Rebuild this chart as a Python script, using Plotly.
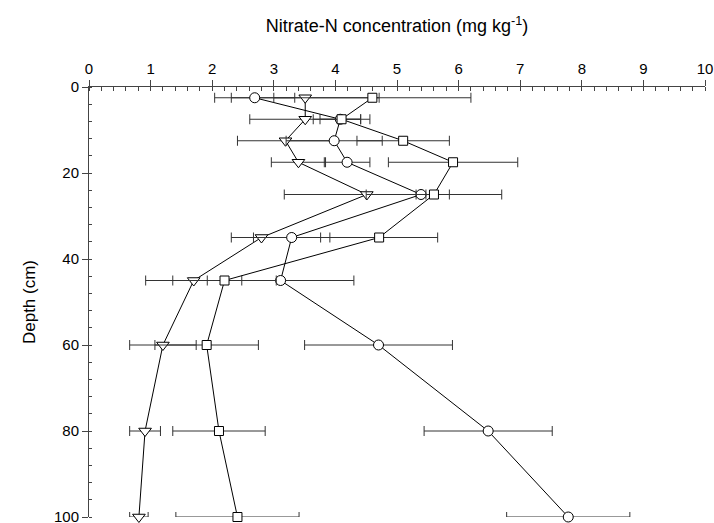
import plotly.graph_objects as go

# Sampling depths (cm)
depth = [2.5, 7.5, 12.5, 17.5, 25, 35, 45, 60, 80, 100]

# Nitrate-N concentration (mg/kg) and standard errors per series
circle_vals = [2.69, 4.08, 3.98, 4.19, 5.39, 3.29, 3.11, 4.70, 6.48, 7.78]
circle_err = [0.65, 0.33, 0.78, 0.37, 0.08, 0.62, 1.19, 1.20, 1.04, 1.00]

square_vals = [4.60, 4.10, 5.10, 5.91, 5.60, 4.71, 2.20, 1.91, 2.11, 2.41]
square_err = [1.60, 0.46, 0.75, 1.05, 1.10, 0.95, 0.84, 0.84, 0.75, 1.00]

triangle_vals = [3.51, 3.51, 3.19, 3.40, 4.51, 2.80, 1.70, 1.20, 0.91, 0.81]
triangle_err = [1.20, 0.90, 0.78, 0.44, 1.34, 0.49, 0.78, 0.54, 0.25, 0.15]

x_ticks = list(range(0, 11))
y_ticks = [0, 20, 40, 60, 80, 100]

FONT = "Liberation Sans, Arial, sans-serif"


def profile(vals, errs, symbol, size):
    return go.Scatter(
        x=vals,
        y=depth,
        mode="lines+markers",
        line=dict(color="black", width=1),
        marker=dict(symbol=symbol, size=size, color="white",
                    line=dict(color="black", width=1)),
        error_x=dict(type="data", array=errs, visible=True,
                     color="#333333", thickness=1, width=5),
        cliponaxis=False,
        showlegend=False,
    )


fig = go.Figure()
fig.add_trace(profile(triangle_vals, triangle_err, "triangle-down", 11))
fig.add_trace(profile(circle_vals, circle_err, "circle", 10))
fig.add_trace(profile(square_vals, square_err, "square", 9))

axis_common = dict(
    showgrid=False,
    zeroline=False,
    showline=True,
    linecolor="#444444",
    linewidth=1,
    ticks="outside",
    ticklen=6,
    tickwidth=1,
    tickcolor="#444444",
    automargin=False,
    ticklabeloverflow="allow",
    tickfont=dict(family=FONT, size=15, color="black"),
)

fig.update_layout(
    width=714,
    height=523,
    margin=dict(l=89, r=9, t=87, b=6),
    paper_bgcolor="white",
    plot_bgcolor="white",
    font=dict(family=FONT, color="black"),
    xaxis=dict(
        **axis_common,
        side="top",
        range=[0, 10],
        tickvals=x_ticks,
        minor=dict(dtick=0.2, ticks="inside", ticklen=4,
                   tickcolor="#444444", tickwidth=1),
        title=dict(text="Nitrate-N concentration (mg kg<sup>-1</sup>)",
                   font=dict(family=FONT, size=18, color="black"),
                   standoff=22),
    ),
    yaxis=dict(
        **axis_common,
        range=[100, 0],
        tickvals=y_ticks,
        minor=dict(dtick=4, ticks="inside", ticklen=3,
                   tickcolor="#444444", tickwidth=1),
        title=dict(text="Depth (cm)",
                   font=dict(family=FONT, size=17, color="black"),
                   standoff=14),
    ),
)

fig.write_html("out.html")
